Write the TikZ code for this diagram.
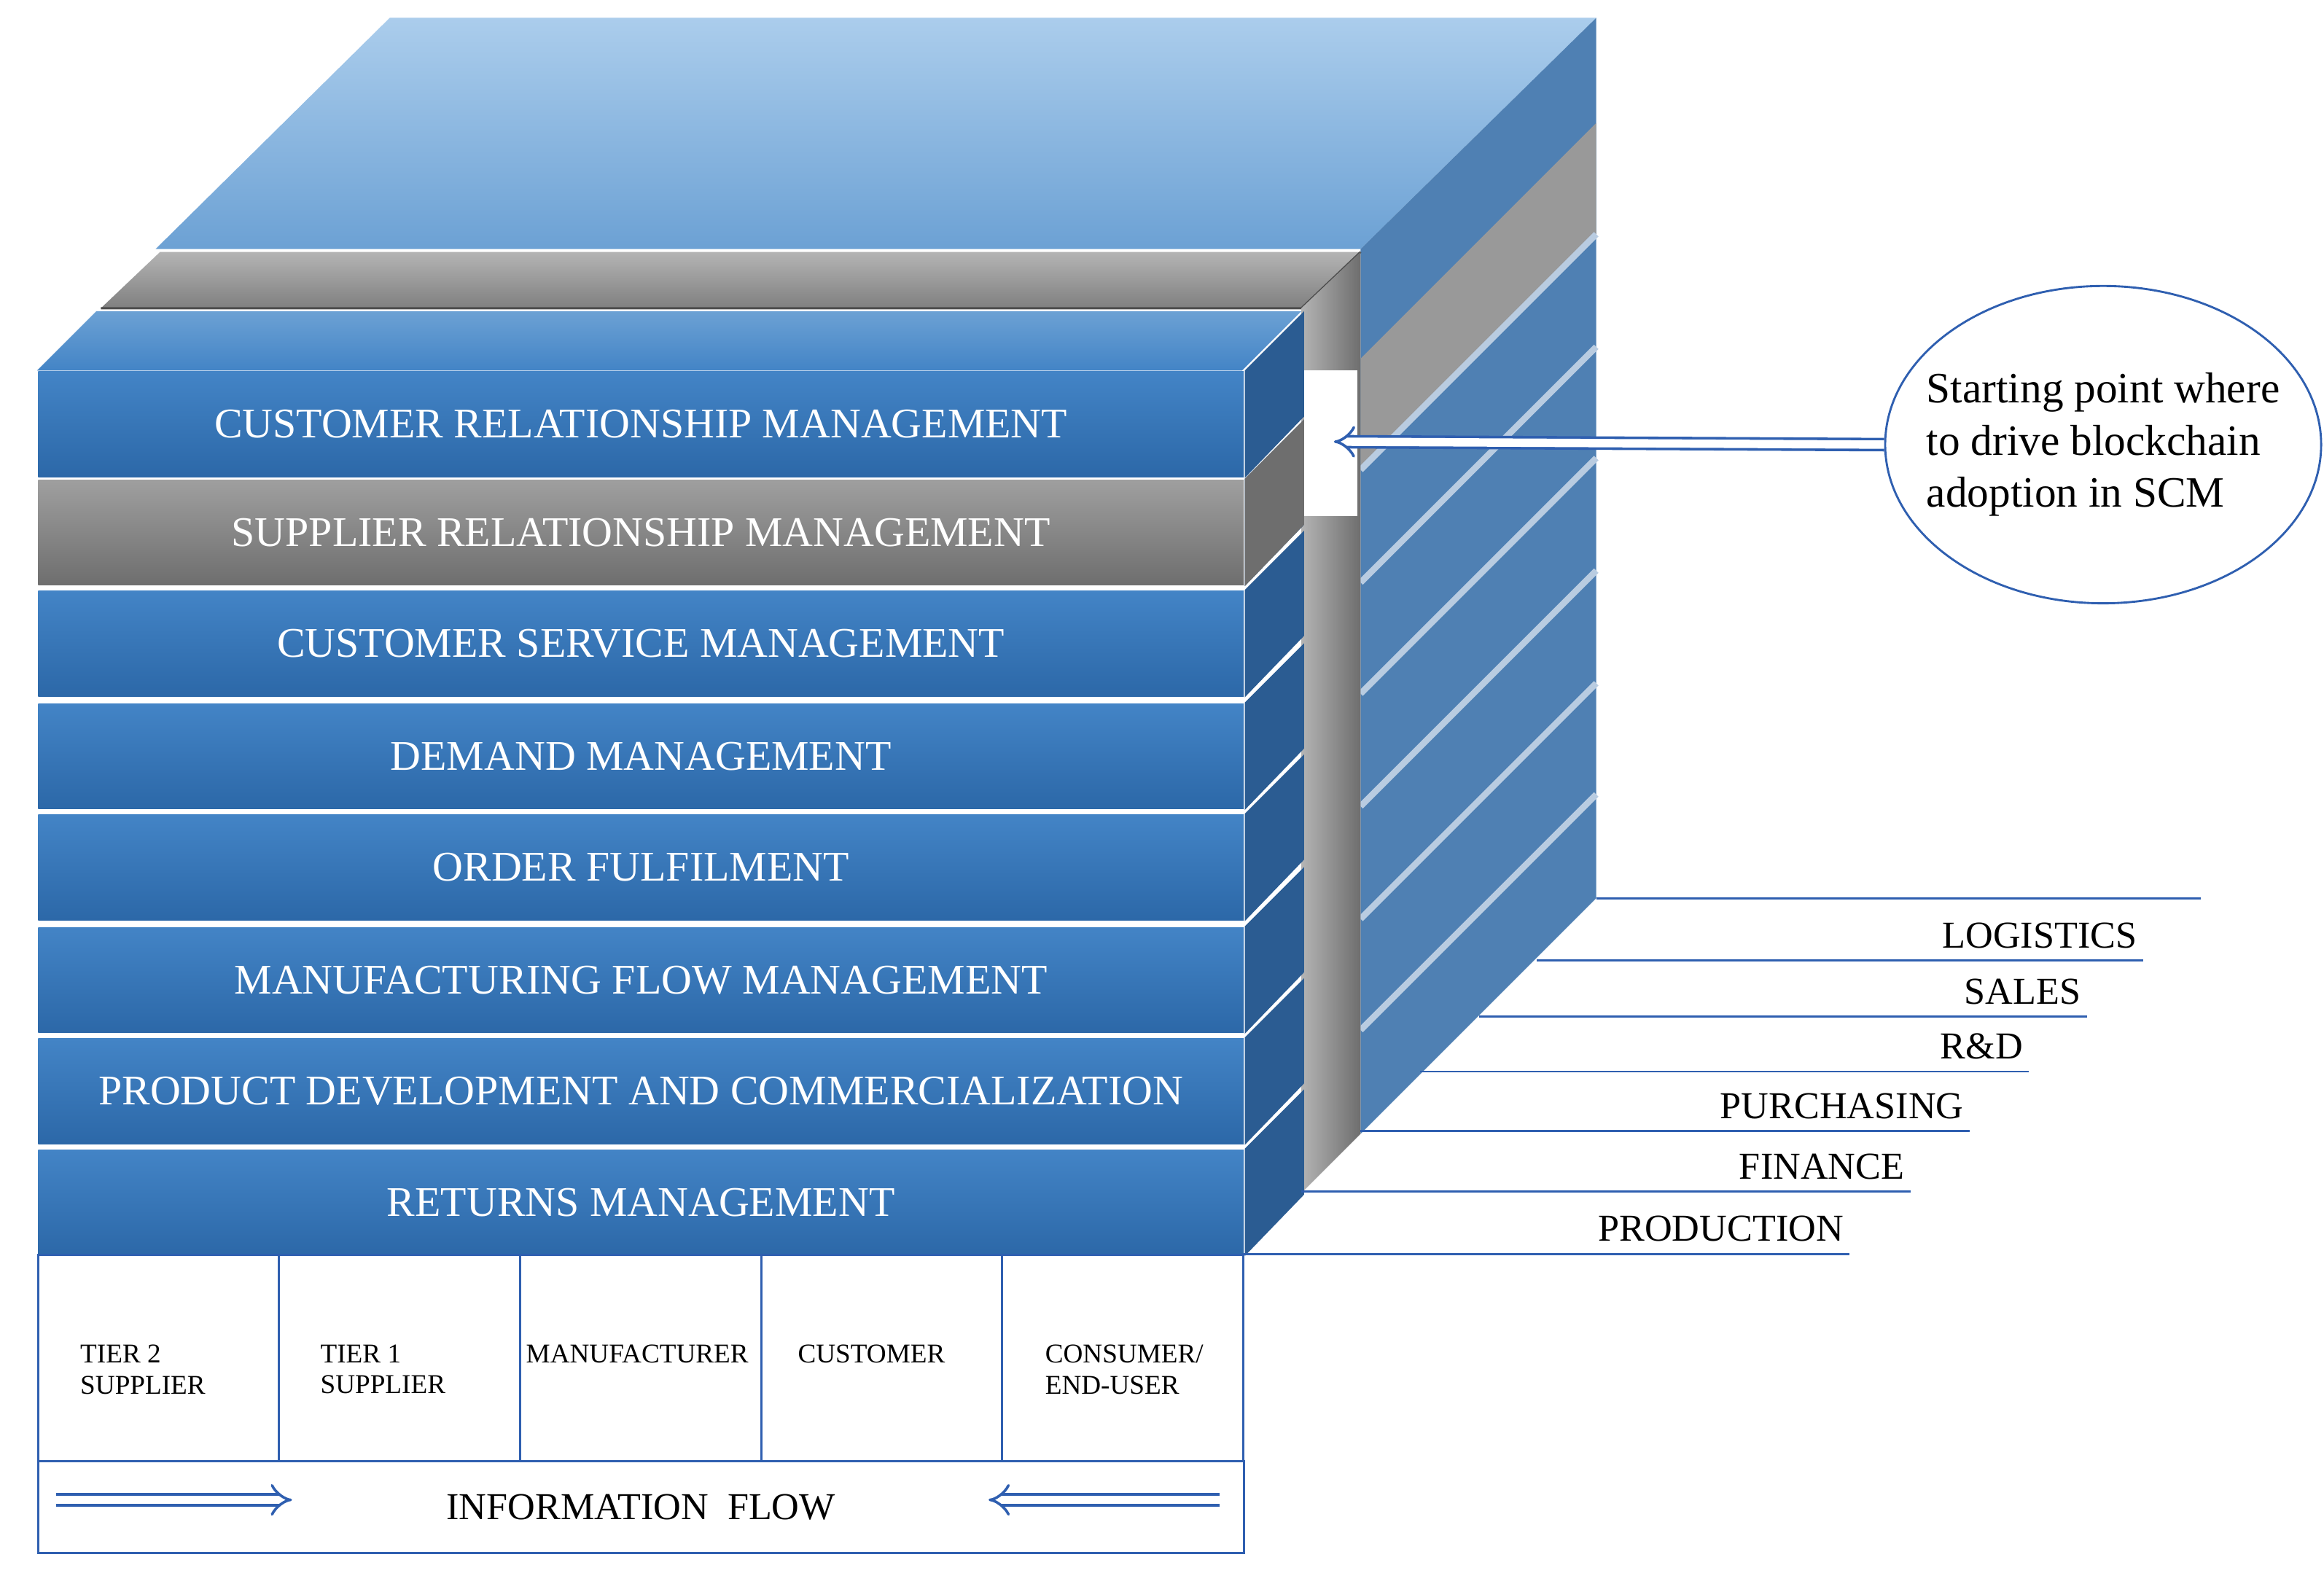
\documentclass[tikz,border=0pt]{standalone}
\usepackage{fontspec}
\setmainfont{Liberation Serif}
\usetikzlibrary{arrows.meta,shapes.geometric}
\definecolor{barT}{HTML}{4384C6}
\definecolor{barB}{HTML}{2C68A8}
\definecolor{barS}{HTML}{2B5C92}
\definecolor{topL}{HTML}{ABCDEC}
\definecolor{topD}{HTML}{6CA1D4}
\definecolor{faceR}{HTML}{4F80B3}
\definecolor{lineB}{HTML}{2F5FB0}
\definecolor{grayL}{HTML}{B4B4B4}
\definecolor{grayD}{HTML}{6E6E6E}
\tikzset{
  bar/.style={rectangle, anchor=north west, minimum width=8.13cm, minimum height=0.71cm,
    top color=barT, bottom color=barB, draw=none, text=white, font=\fontsize{8.1}{9}\selectfont},
  graybar/.style={bar, top color=grayL!60!gray, bottom color=grayD},
  side/.style={fill=barS},
  cell/.style={rectangle, draw=lineB, thin, anchor=north west, minimum width=1.626cm, minimum height=1.39cm},
  who/.style={font=\fontsize{5.2}{6}\selectfont, align=left, inner sep=1pt},
  func/.style={font=\fontsize{7.3}{8}\selectfont, anchor=south east, inner sep=1pt},
  flow/.style={draw=lineB, double=white, line width=0.5pt, double distance=1.6pt, -{Implies}},
}
\begin{document}
\begin{tikzpicture}[x=0.01cm,y=-0.01cm]
\useasboundingbox (0,0) rectangle (1568,1063);
% back block
\shade[top color=topL, bottom color=topD] (105,168) -- (918,168) -- (1077,12) -- (263,12) -- cycle;
\fill[faceR] (918,168) -- (1077,12) -- (1077,606) -- (918,765) -- cycle;
\fill[gray!80] (918,242) -- (1077,83) -- (1077,158) -- (918,317) -- cycle;
\foreach \a/\b in {317/158,393/234,468/309,544/385,620/461,695/536}
  \draw[white!60!faceR, line width=1.2pt] (918,\a) -- (1077,\b);
% gray slab
\shade[top color=grayL, bottom color=gray] (68,208) -- (878,208) -- (918,170) -- (108,170) -- cycle;
\draw[gray!60!black, thin] (68,208) -- (878,208) -- (918,170);
\shade[left color=grayL, right color=grayD] (878,208) -- (918,170) -- (918,765) -- (878,805) -- cycle;
\fill[white] (880,250) rectangle (916,348);
% top of front stack
\shade[top color=topD, bottom color=barT] (25,250) -- (838,250) -- (878,210) -- (65,210) -- cycle;
% process bars
\foreach \n/\y/\t/\s in {
  1/250/CUSTOMER RELATIONSHIP MANAGEMENT/bar,
  2/323/SUPPLIER RELATIONSHIP MANAGEMENT/graybar,
  3/398/CUSTOMER SERVICE MANAGEMENT/bar,
  4/474/DEMAND MANAGEMENT/bar,
  5/549/ORDER FULFILMENT/bar,
  6/625/MANUFACTURING FLOW MANAGEMENT/bar,
  7/700/PRODUCT DEVELOPMENT AND COMMERCIALIZATION/bar,
  8/775/RETURNS MANAGEMENT/bar}{
  \node[\s] (b\n) at (25,\y) {\t};
  \fill[side] (b\n.north east) -- ++(40,-40) -- ++(0,71) -- (b\n.south east) -- cycle;
}
\fill[grayD] (b2.north east) -- ++(40,-40) -- ++(0,71) -- (b2.south east) -- cycle;
% functions
\foreach \a/\b/\c/\t in {1077/1485/606/,1037/1446/648/LOGISTICS,998/1408/686/SALES,
  958/1369/723/R\&D,918/1329/763/PURCHASING,878/1289/804/FINANCE,838/1248/846/PRODUCTION}{
  \draw[lineB, thin] (\a,\c) -- (\b,\c);
  \node[func] (f\c) at (\b,\c-4) {\t};
}
% members
\foreach \k in {0,...,4}
  \node[cell] (c\k) at (25+162.6*\k,846) {};
\node[who, anchor=north west] (m0) at (50,903) {TIER 2\\SUPPLIER};
\node[who, anchor=north west] (m1) at (212,903) {TIER 1\\SUPPLIER};
\node[who, anchor=north] (m2) at (430,903) {MANUFACTURER};
\node[who, anchor=north] (m3) at (588,903) {CUSTOMER};
\node[who, anchor=north west] (m4) at (701,903) {CONSUMER/\\END-USER};
\node[rectangle, draw=lineB, thin, minimum width=8.13cm, minimum height=0.62cm, anchor=north west,
  font=\fontsize{7.3}{8}\selectfont] (info) at (25,985) {INFORMATION\ \ FLOW};
\coordinate (l1) at (38,1012); \coordinate (l2) at (197,1012);
\coordinate (r1) at (823,1012); \coordinate (r2) at (667,1012);
\draw[flow] (l1) -- (l2);
\draw[flow] (r1) -- (r2);
% callout
\node[ellipse, draw=lineB, thin, minimum width=2.94cm, minimum height=2.14cm, inner sep=0pt] (note) at (1419,300) {};
\node[align=left, font=\fontsize{8.3}{10}\selectfont] (notetext) at (note) {Starting point where\\to drive blockchain\\adoption in SCM};
\coordinate (gap) at (900,298);
\draw[flow] (note.west) -- (gap);
\end{tikzpicture}
\end{document}
